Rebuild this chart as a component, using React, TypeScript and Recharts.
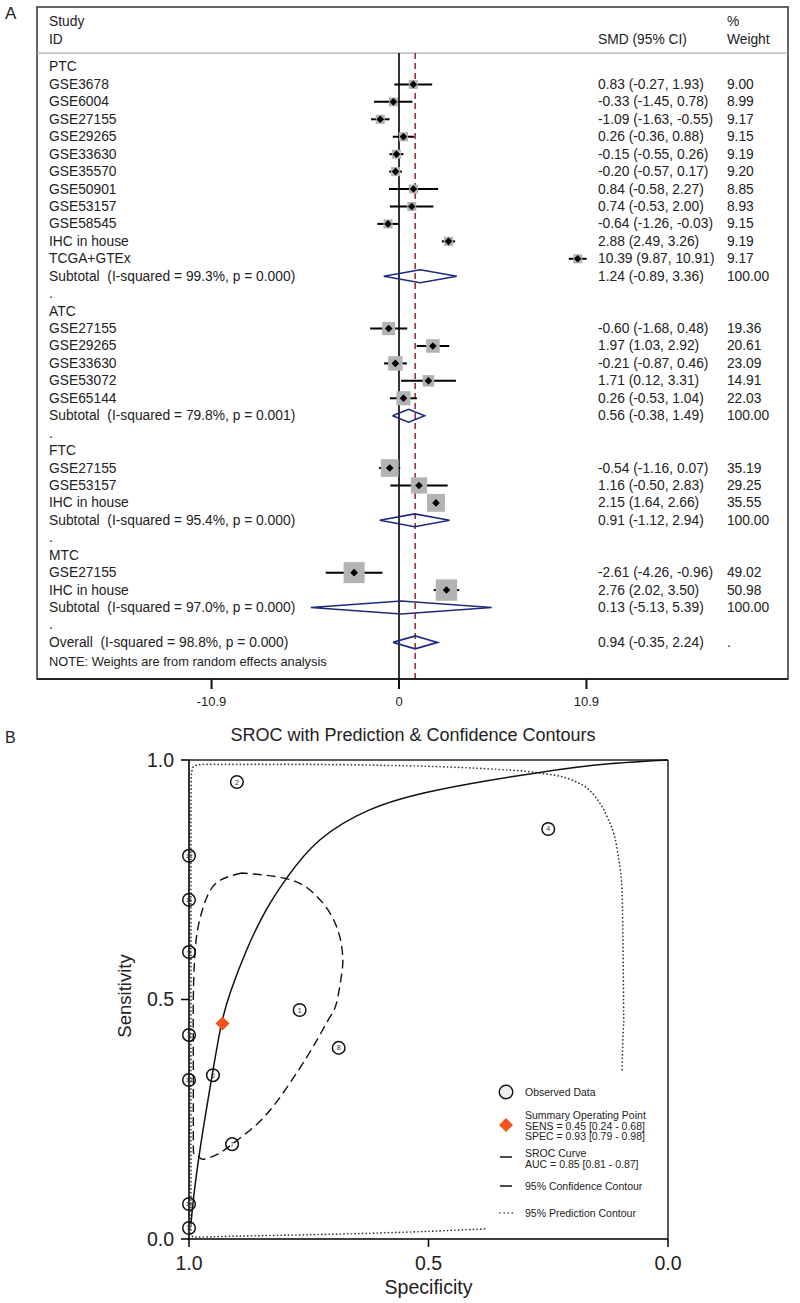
import React from "react";
import {
  ComposedChart,
  Scatter,
  Line,
  XAxis,
  YAxis,
  ReferenceLine,
  ReferenceArea,
  ErrorBar,
} from "recharts";

const FONT = "'Liberation Sans', Arial, Helvetica, sans-serif";
const INK = "#222";
const NAVY = "#1d2a80";

// ---------- Panel A: forest plot ----------
const ptcStudies = ["GSE3678", "GSE6004", "GSE27155", "GSE29265", "GSE33630", "GSE35570", "GSE50901", "GSE53157", "GSE58545", "IHC in house", "TCGA+GTEx"];
const ptcSmd = [0.83, -0.33, -1.09, 0.26, -0.15, -0.2, 0.84, 0.74, -0.64, 2.88, 10.39];
const ptcLow = [-0.27, -1.45, -1.63, -0.36, -0.55, -0.57, -0.58, -0.53, -1.26, 2.49, 9.87];
const ptcHigh = [1.93, 0.78, -0.55, 0.88, 0.26, 0.17, 2.27, 2.0, -0.03, 3.26, 10.91];
const ptcWeight = [9.0, 8.99, 9.17, 9.15, 9.19, 9.2, 8.85, 8.93, 9.15, 9.19, 9.17];

const atcStudies = ["GSE27155", "GSE29265", "GSE33630", "GSE53072", "GSE65144"];
const atcSmd = [-0.6, 1.97, -0.21, 1.71, 0.26];
const atcLow = [-1.68, 1.03, -0.87, 0.12, -0.53];
const atcHigh = [0.48, 2.92, 0.46, 3.31, 1.04];
const atcWeight = [19.36, 20.61, 23.09, 14.91, 22.03];

const ftcStudies = ["GSE27155", "GSE53157", "IHC in house"];
const ftcSmd = [-0.54, 1.16, 2.15];
const ftcLow = [-1.16, -0.5, 1.64];
const ftcHigh = [0.07, 2.83, 2.66];
const ftcWeight = [35.19, 29.25, 35.55];

const mtcStudies = ["GSE27155", "IHC in house"];
const mtcSmd = [-2.61, 2.76];
const mtcLow = [-4.26, 2.02];
const mtcHigh = [-0.96, 3.5];
const mtcWeight = [49.02, 50.98];

const subgroups = ["PTC", "ATC", "FTC", "MTC"];
const subtotalIsq = ["99.3%", "79.8%", "95.4%", "97.0%"];
const subtotalP = ["0.000", "0.001", "0.000", "0.000"];
const subtotalSmd = [1.24, 0.56, 0.91, 0.13];
const subtotalLow = [-0.89, -0.38, -1.12, -5.13];
const subtotalHigh = [3.36, 1.49, 2.94, 5.39];

const overallIsq = "98.8%";
const overallP = "0.000";
const overallSmd = 0.94;
const overallLow = -0.35;
const overallHigh = 2.24;

const forestTicks = [-10.9, 0, 10.9];

// ---------- Panel B: SROC ----------
const obsLabels = ["1", "2", "3", "4", "5", "6", "7", "8", "9", "10", "11", "12", "13"];
const obsSpec = [0.769, 0.9, 1.0, 0.25, 1.0, 0.95, 0.91, 0.6875, 1.0, 1.0, 1.0, 1.0, 1.0];
const obsSens = [0.478, 0.954, 0.426, 0.856, 0.023, 0.342, 0.198, 0.399, 0.599, 0.8, 0.708, 0.073, 0.332];

const summarySpec = 0.93;
const summarySens = 0.45;

const srocSpec = [0.996, 0.99, 0.975, 0.952, 0.932, 0.912, 0.879, 0.84, 0.795, 0.727, 0.623, 0.483, 0.275, 0.123, 0.0];
const srocSens = [0.03, 0.09, 0.2, 0.34, 0.45, 0.52, 0.605, 0.685, 0.755, 0.833, 0.896, 0.937, 0.973, 0.992, 1.0];

const confSpec = [0.89, 0.935, 0.9625, 0.981, 0.988, 0.991, 0.991, 0.991, 0.988, 0.978, 0.967, 0.94, 0.91, 0.867, 0.825, 0.775, 0.733, 0.706, 0.692, 0.681, 0.679, 0.685, 0.706, 0.748, 0.804, 0.89];
const confSens = [0.764, 0.749, 0.714, 0.651, 0.589, 0.5, 0.35, 0.2, 0.18, 0.17, 0.167, 0.177, 0.198, 0.232, 0.276, 0.347, 0.415, 0.463, 0.493, 0.555, 0.589, 0.63, 0.681, 0.729, 0.754, 0.764];

const predSpec = [0.383, 0.5, 0.7, 0.9, 0.99, 0.996, 0.996, 0.996, 0.996, 0.995, 0.99, 0.97, 0.8, 0.6, 0.45, 0.35, 0.269, 0.2, 0.15, 0.127, 0.106, 0.096, 0.094, 0.092, 0.096];
const predSens = [0.021, 0.016, 0.01, 0.006, 0.004, 0.01, 0.3, 0.6, 0.9, 0.97, 0.987, 0.991, 0.991, 0.989, 0.985, 0.98, 0.973, 0.958, 0.921, 0.881, 0.812, 0.729, 0.624, 0.451, 0.353];

const srocTicks = [0, 0.5, 1];

// ---------- build forest tables ----------
const X_DOMAIN: [number, number] = [-21.05, 22.62];
const Y_DOMAIN: [number, number] = [-3.44, 35.1];
const COL_STUDY = -20.35;
const COL_SMD = 11.57;
const COL_WT = 19.07;
const HEAD_RULE = -0.8;

const fmt = (v: number) => v.toFixed(2);
const ci = (e: number, l: number, h: number) => `${fmt(e)} (${fmt(l)}, ${fmt(h)})`;

type TextRow = { row: number; label?: string; est?: string; wt?: string; size?: number };
const textRows: TextRow[] = [
  { row: -2.6, label: "Study", wt: "%" },
  { row: -1.6, label: "ID", est: "SMD (95% CI)", wt: "Weight" },
];
const studyPts: { x: number; y: number; err: [number, number]; w: number }[] = [];
const diamonds: { x: number; y: number }[][] = [];

const diamond = (e: number, l: number, h: number, r: number) => [
  { x: l, y: r },
  { x: e, y: r - 0.37 },
  { x: h, y: r },
  { x: e, y: r + 0.37 },
  { x: l, y: r },
];

const groups = [
  { s: ptcStudies, e: ptcSmd, l: ptcLow, h: ptcHigh, w: ptcWeight },
  { s: atcStudies, e: atcSmd, l: atcLow, h: atcHigh, w: atcWeight },
  { s: ftcStudies, e: ftcSmd, l: ftcLow, h: ftcHigh, w: ftcWeight },
  { s: mtcStudies, e: mtcSmd, l: mtcLow, h: mtcHigh, w: mtcWeight },
];

let row = 0;
groups.forEach((g, gi) => {
  textRows.push({ row: row++, label: subgroups[gi] });
  g.s.forEach((name, i) => {
    textRows.push({ row, label: name, est: ci(g.e[i], g.l[i], g.h[i]), wt: fmt(g.w[i]) });
    studyPts.push({ x: g.e[i], y: row, err: [g.e[i] - g.l[i], g.h[i] - g.e[i]], w: g.w[i] });
    row++;
  });
  textRows.push({
    row,
    label: `Subtotal  (I-squared = ${subtotalIsq[gi]}, p = ${subtotalP[gi]})`,
    est: ci(subtotalSmd[gi], subtotalLow[gi], subtotalHigh[gi]),
    wt: "100.00",
  });
  diamonds.push(diamond(subtotalSmd[gi], subtotalLow[gi], subtotalHigh[gi], row));
  row++;
  textRows.push({ row: row++, label: "." });
});
textRows.push({
  row,
  label: `Overall  (I-squared = ${overallIsq}, p = ${overallP})`,
  est: ci(overallSmd, overallLow, overallHigh),
  wt: ".",
});
diamonds.push(diamond(overallSmd, overallLow, overallHigh, row));
textRows.push({ row: row + 1.1, label: "NOTE: Weights are from random effects analysis", size: 12.8 });

const studyCol = textRows.filter((t) => t.label).map((t) => ({ x: COL_STUDY, y: t.row, t: t.label, size: t.size }));
const smdCol = textRows.filter((t) => t.est).map((t) => ({ x: COL_SMD, y: t.row, t: t.est }));
const wtCol = textRows.filter((t) => t.wt).map((t) => ({ x: COL_WT, y: t.row, t: t.wt }));

const textShape = (p: any) => (
  <text
    x={p.cx}
    y={p.cy}
    dominantBaseline="central"
    fontSize={p.payload.size ?? 13.8}
    fontFamily={FONT}
    fill={INK}
    style={{ whiteSpace: "pre" }}
  >
    {p.payload.t}
  </text>
);

const boxShape = (p: any) => {
  const s = 3 * Math.sqrt(p.payload.w);
  return <rect x={p.cx - s / 2} y={p.cy - s / 2} width={s} height={s} fill="#b3b3b3" />;
};

const dotShape = (p: any) => (
  <polygon
    points={`${p.cx - 3.8},${p.cy} ${p.cx},${p.cy - 3.8} ${p.cx + 3.8},${p.cy} ${p.cx},${p.cy + 3.8}`}
    fill="#000"
  />
);

function ForestPlot() {
  return (
    <ComposedChart width={800} height={720} margin={{ top: 7, right: 12, bottom: 6, left: 37 }}>
      <XAxis
        type="number"
        dataKey="x"
        domain={X_DOMAIN}
        ticks={forestTicks}
        interval={0}
        height={35}
        tickSize={10}
        tickMargin={8}
        axisLine={{ stroke: "#111", strokeWidth: 1.5 }}
        tickLine={{ stroke: "#111", strokeWidth: 2 }}
        tick={{ fontSize: 13, fill: INK, fontFamily: FONT }}
      />
      <YAxis type="number" dataKey="y" domain={Y_DOMAIN} reversed hide />
      <ReferenceArea
        x1={X_DOMAIN[0]}
        x2={X_DOMAIN[1]}
        y1={Y_DOMAIN[0]}
        y2={Y_DOMAIN[1]}
        fill="none"
        fillOpacity={0}
        stroke="#333"
        strokeWidth={1.5}
      />
      <ReferenceLine y={HEAD_RULE} stroke="#aaa" strokeWidth={1.2} />
      <ReferenceLine
        segment={[{ x: 0, y: HEAD_RULE }, { x: 0, y: Y_DOMAIN[1] }]}
        stroke="#000"
        strokeWidth={1.6}
      />
      <ReferenceLine
        segment={[{ x: overallSmd, y: HEAD_RULE }, { x: overallSmd, y: Y_DOMAIN[1] }]}
        stroke="#9b2226"
        strokeWidth={1.5}
        strokeDasharray="6 4"
      />
      <Scatter data={studyPts} shape={boxShape} isAnimationActive={false} />
      <Scatter data={studyPts} shape={dotShape} isAnimationActive={false}>
        <ErrorBar dataKey="err" direction="x" width={0} stroke="#000" strokeWidth={2} />
      </Scatter>
      {diamonds.map((d, i) => (
        <Line
          key={i}
          data={d}
          dataKey="y"
          type="linear"
          stroke={NAVY}
          strokeWidth={1.6}
          dot={false}
          activeDot={false}
          isAnimationActive={false}
        />
      ))}
      <Scatter data={studyCol} shape={textShape} isAnimationActive={false} />
      <Scatter data={smdCol} shape={textShape} isAnimationActive={false} />
      <Scatter data={wtCol} shape={textShape} isAnimationActive={false} />
    </ComposedChart>
  );
}

// ---------- SROC chart ----------
const obsData = obsLabels.map((label, i) => ({ x: obsSpec[i], y: obsSens[i], label }));
const summaryData = [{ x: summarySpec, y: summarySens }];
const srocData = srocSpec.map((x, i) => ({ x, y: srocSens[i] }));
const confData = confSpec.map((x, i) => ({ x, y: confSens[i] }));
const predData = predSpec.map((x, i) => ({ x, y: predSens[i] }));

const obsShape = (p: any) => (
  <g>
    <circle cx={p.cx} cy={p.cy} r={6.3} fill="none" stroke="#111" strokeWidth={1.5} />
    <text
      x={p.cx}
      y={p.cy}
      textAnchor="middle"
      dominantBaseline="central"
      fontSize={p.payload.label.length > 1 ? 6 : 7}
      fontFamily={FONT}
      fill="#333"
    >
      {p.payload.label}
    </text>
  </g>
);

const ORANGE = "#f2541b";
const summaryShape = (p: any) => (
  <polygon
    points={`${p.cx - 7},${p.cy} ${p.cx},${p.cy - 7} ${p.cx + 7},${p.cy} ${p.cx},${p.cy + 7}`}
    fill={ORANGE}
  />
);

function SrocPlot() {
  return (
    <ComposedChart width={800} height={583} margin={{ top: 40, right: 132, bottom: 14, left: 129 }}>
      <XAxis
        type="number"
        dataKey="x"
        domain={[0, 1]}
        reversed
        ticks={srocTicks}
        interval={0}
        tickFormatter={(v) => Number(v).toFixed(1)}
        height={50}
        tickSize={8}
        tickMargin={9}
        axisLine={{ stroke: "#000", strokeWidth: 1.6 }}
        tickLine={{ stroke: "#000", strokeWidth: 1.5 }}
        tick={{ fontSize: 19.5, fill: INK, fontFamily: FONT }}
      />
      <YAxis
        type="number"
        dataKey="y"
        domain={[0, 1]}
        ticks={srocTicks}
        interval={0}
        tickFormatter={(v) => Number(v).toFixed(1)}
        width={60}
        tickSize={8}
        tickMargin={7}
        axisLine={{ stroke: "#000", strokeWidth: 1.6 }}
        tickLine={{ stroke: "#000", strokeWidth: 1.5 }}
        tick={{ fontSize: 19.5, fill: INK, fontFamily: FONT }}
      />
      <ReferenceLine y={1} stroke="#222" strokeWidth={1.5} />
      <ReferenceLine x={0} stroke="#222" strokeWidth={1.5} />
      <Line
        data={predData}
        dataKey="y"
        type="monotone"
        stroke="#333"
        strokeWidth={1.7}
        strokeDasharray="0.1 3.6"
        strokeLinecap="round"
        dot={false}
        activeDot={false}
        isAnimationActive={false}
      />
      <Line
        data={confData}
        dataKey="y"
        type="natural"
        stroke="#111"
        strokeWidth={1.4}
        strokeDasharray="9 5"
        dot={false}
        activeDot={false}
        isAnimationActive={false}
      />
      <Line
        data={srocData}
        dataKey="y"
        type="natural"
        stroke="#111"
        strokeWidth={1.5}
        dot={false}
        activeDot={false}
        isAnimationActive={false}
      />
      <Scatter data={obsData} shape={obsShape} isAnimationActive={false} />
      <Scatter data={summaryData} shape={summaryShape} isAnimationActive={false} />
    </ComposedChart>
  );
}

function SrocLegend() {
  const t = { fontSize: 10.5, fontFamily: FONT, fill: INK } as const;
  return (
    <svg width={170} height={150} style={{ position: "absolute", left: 490, top: 1078 }}>
      <circle cx={16} cy={14} r={6.8} fill="#eee" stroke="#111" strokeWidth={1.4} />
      <text x={35} y={18} {...t}>Observed Data</text>
      <polygon points="9,47 16,40 23,47 16,54" fill={ORANGE} />
      <text x={35} y={41} {...t}>Summary Operating Point</text>
      <text x={35} y={51.5} {...t}>SENS = 0.45 [0.24 - 0.68]</text>
      <text x={35} y={62} {...t}>SPEC = 0.93 [0.79 - 0.98]</text>
      <line x1={10} x2={22} y1={79} y2={79} stroke="#111" strokeWidth={1.5} />
      <text x={35} y={79} {...t}>SROC Curve</text>
      <text x={35} y={89.5} {...t}>AUC = 0.85 [0.81 - 0.87]</text>
      <line x1={10} x2={22} y1={108} y2={108} stroke="#111" strokeWidth={1.5} />
      <text x={35} y={112} {...t}>95% Confidence Contour</text>
      <line x1={10} x2={23} y1={135} y2={135} stroke="#333" strokeWidth={1.6} strokeDasharray="0.1 4" strokeLinecap="round" />
      <text x={35} y={139} {...t}>95% Prediction Contour</text>
    </svg>
  );
}

export default function App() {
  return (
    <div
      style={{
        position: "absolute",
        left: 0,
        top: 0,
        width: 800,
        height: 1303,
        background: "#fff",
        fontFamily: FONT,
        overflow: "hidden",
      }}
    >
      <div style={{ position: "absolute", left: 0, top: 0 }}>
        <ForestPlot />
      </div>
      <div style={{ position: "absolute", left: 0, top: 720 }}>
        <SrocPlot />
      </div>
      <SrocLegend />
      <svg width={800} height={1303} style={{ position: "absolute", left: 0, top: 0, pointerEvents: "none" }}>
        <text x={5} y={19} fontSize={17} fontFamily={FONT} fill={INK}>A</text>
        <text x={5} y={743} fontSize={16} fontFamily={FONT} fill={INK}>B</text>
        <text x={413} y={741} textAnchor="middle" fontSize={18} fontFamily={FONT} fill={INK}>
          SROC with Prediction &amp; Confidence Contours
        </text>
        <text x={428.5} y={1294} textAnchor="middle" fontSize={19.5} fontFamily={FONT} fill={INK}>
          Specificity
        </text>
        <text
          x={0}
          y={0}
          transform="translate(131 996) rotate(-90)"
          textAnchor="middle"
          fontSize={18.5}
          fontFamily={FONT}
          fill={INK}
        >
          Sensitivity
        </text>
      </svg>
    </div>
  );
}
